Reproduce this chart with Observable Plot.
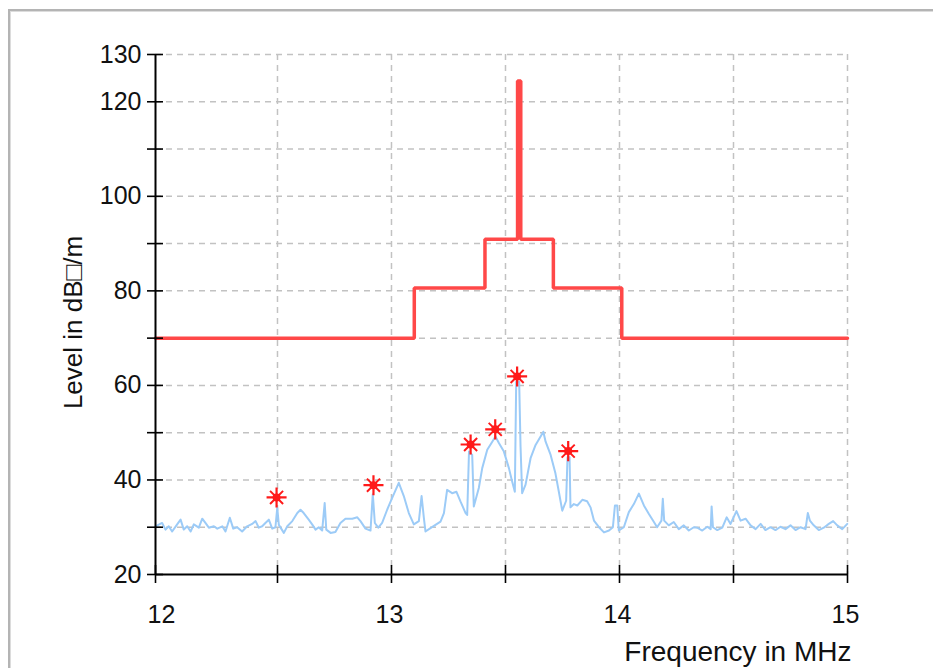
<!DOCTYPE html>
<html>
<head>
<meta charset="utf-8">
<script src="https://cdn.jsdelivr.net/npm/d3@7"></script>
<script src="https://cdn.jsdelivr.net/npm/@observablehq/plot@0.6"></script>
<style>
  body { margin: 0; background: #fff; }
  #wrap { position: relative; width: 933px; height: 668px; overflow: hidden; background: #fff; }
  #wrap svg { position: absolute; left: 0; top: 0; }
  #frame { position: absolute; left: 8px; top: 9px; width: 940px; height: 680px;
           border-top: 2px solid #b4b4b4; border-left: 2px solid #b4b4b4;
           box-shadow: inset 1px 1px 0 #dcdcdc; pointer-events: none; }
</style>
</head>
<body>
<div id="wrap"><div id="frame"></div></div>
<script>
// ---- axis definitions ----
const xDomain = [11.965, 15];
const yDomain = [20, 130];
const xTicks = [11.965, 12.5, 13, 13.5, 14, 14.5, 15];
const xGrid = [12.5, 13, 13.5, 14, 14.5, 15];
const xLabels = [12, 13, 14, 15];
const yTicks = [20, 30, 40, 50, 60, 70, 80, 90, 100, 110, 120, 130];
const yGrid = [30, 40, 50, 60, 70, 80, 90, 100, 110, 120, 130];
const yLabels = [20, 40, 60, 80, 100, 120, 130];
const xTitle = "Frequency in MHz";
const yTitle = "Level in dB\u25A1/m";

// ---- limit line (red) ----
const limitFreq  = [11.965, 13.1, 13.1, 13.41, 13.41, 13.553, 13.553, 13.567, 13.567, 13.71, 13.71, 14.01, 14.01, 15];
const limitLevel = [70, 70, 80.6, 80.6, 90.9, 90.9, 124.4, 124.4, 90.9, 90.9, 80.6, 80.6, 70, 70];

// ---- measured spectrum (light blue) ----
const specFreq = [
  11.965, 11.994, 12.009, 12.023, 12.038, 12.060, 12.075, 12.089, 12.104, 12.119, 12.133, 12.155, 12.170, 12.184, 12.199,
  12.221, 12.236, 12.258, 12.272, 12.291, 12.306, 12.323, 12.345, 12.367, 12.389, 12.404, 12.418, 12.433, 12.447, 12.462,
  12.477, 12.491, 12.499, 12.506, 12.528, 12.543,
  12.565, 12.587, 12.601, 12.615, 12.637, 12.652, 12.667, 12.681, 12.696, 12.707, 12.714, 12.733, 12.754, 12.776, 12.798,
  12.828, 12.850, 12.864, 12.886, 12.908, 12.918, 12.927, 12.942, 12.959, 12.981, 13.003, 13.032, 13.054, 13.076, 13.098,
  13.120, 13.132, 13.142,
  13.149, 13.171, 13.193, 13.215, 13.230, 13.244, 13.266, 13.285, 13.303, 13.325, 13.332, 13.340, 13.354, 13.361, 13.383,
  13.398, 13.420, 13.442, 13.456, 13.471, 13.493, 13.515, 13.529, 13.541, 13.547, 13.560, 13.566, 13.573, 13.588, 13.610,
  13.632, 13.654, 13.666, 13.676, 13.698, 13.719, 13.734,
  13.749, 13.766, 13.772, 13.781, 13.785, 13.800, 13.815, 13.837, 13.858, 13.873, 13.888, 13.910, 13.932, 13.954, 13.971,
  13.980, 13.990, 13.997, 14.019, 14.041, 14.063, 14.085, 14.107, 14.129, 14.151, 14.165, 14.184, 14.190, 14.196, 14.216,
  14.238, 14.260, 14.282, 14.304, 14.326,
  14.341, 14.363, 14.385, 14.400, 14.404, 14.410, 14.429, 14.451, 14.470, 14.487, 14.513, 14.531, 14.553, 14.575, 14.597,
  14.619, 14.640, 14.662, 14.684, 14.706, 14.728, 14.750, 14.772, 14.794, 14.816, 14.826, 14.835, 14.852, 14.874, 14.896,
  14.918, 14.937, 14.955, 14.977, 14.999
];
const specLevel = [
  30.2, 30.9, 29.5, 30.2, 29.1, 30.6, 31.6, 29.5, 30.2, 29.1, 30.6, 29.9, 31.8, 30.9, 29.9,
  30.2, 29.7, 30.2, 29.1, 32.0, 29.7, 30.0, 29.1, 30.2, 30.7, 31.3, 29.9, 30.2, 30.9, 31.6,
  29.7, 30.0, 34.1, 30.5, 28.8, 30.2,
  31.3, 33.0, 33.7, 33.0, 31.6, 30.6, 29.5, 30.0, 29.3, 35.1, 29.5, 28.8, 29.0, 30.9, 31.8,
  31.8, 32.1, 31.3, 29.7, 29.3, 37.0, 30.9, 29.9, 30.9, 33.7, 36.2, 39.4, 36.6, 33.0, 30.6,
  31.3, 36.6, 32.0,
  29.1, 29.8, 30.5, 31.2, 33.0, 37.9, 37.2, 37.5, 35.4, 33.0, 32.6, 46.0, 45.3, 34.4, 38.3,
  42.5, 46.4, 48.1, 49.2, 47.8, 46.0, 42.5, 39.7, 37.5, 60.8, 60.8, 47.1, 37.2, 39.0, 44.6,
  47.4, 49.2, 50.2, 48.1, 45.3, 41.4, 37.5,
  33.5, 35.6, 44.8, 44.8, 34.2, 34.9, 34.6, 35.8, 35.5, 34.2, 31.4, 30.0, 28.9, 29.3, 30.0,
  34.6, 34.6, 29.3, 30.0, 33.2, 34.9, 37.1, 34.6, 32.8, 31.1, 30.0, 31.4, 36.0, 31.4, 30.4,
  31.1, 29.6, 30.4, 29.3, 30.0,
  29.9, 29.3, 30.1, 29.6, 34.4, 30.0, 29.4, 29.9, 32.1, 30.7, 33.4, 31.4, 31.8, 30.4, 29.6,
  30.7, 29.4, 30.0, 29.4, 30.1, 29.6, 30.4, 29.4, 30.0, 29.6, 33.0, 31.4, 30.4, 29.4, 29.9,
  30.7, 31.3, 30.4, 29.6, 30.7
];

// ---- detected peaks (red stars) ----
const peakFreq  = [12.496, 12.921, 13.347, 13.455, 13.551, 13.775];
const peakLevel = [36.3, 38.9, 47.5, 50.7, 61.9, 46.1];

const limit = limitFreq.map((f, i) => ({f, v: limitLevel[i]}));
const spec = specFreq.map((f, i) => ({f, v: specLevel[i]}));
const peaks = peakFreq.map((f, i) => ({f, v: peakLevel[i]}));

const W = 933, H = 668, mL = 155, mR = 86, mT = 54, mB = 94;
const fw = W - mL - mR, fh = H - mT - mB;
const font = "Liberation Sans, Arial, sans-serif";
const ink = "#111";

const chart = Plot.plot({
  width: W, height: H,
  marginLeft: mL, marginRight: mR, marginTop: mT, marginBottom: mB,
  style: {fontFamily: font, background: "transparent"},
  x: {domain: xDomain, axis: null},
  y: {domain: yDomain, axis: null},
  marks: [
    Plot.ruleY(yGrid, {stroke: "#c2c2c2", strokeWidth: 1.5, strokeDasharray: "6,5"}),
    Plot.ruleX(xGrid, {stroke: "#c2c2c2", strokeWidth: 1.5, strokeDasharray: "6,5"}),
    Plot.line(spec, {x: "f", y: "v", stroke: "#9ccbf7", strokeWidth: 2}),
    Plot.line(limit, {x: "f", y: "v", stroke: "#ff4848", strokeWidth: 3.5, strokeLinejoin: "miter"}),
    Plot.ruleX([xDomain[0]], {stroke: "#000", strokeWidth: 2}),
    Plot.ruleY([yDomain[0]], {stroke: "#000", strokeWidth: 2}),
    Plot.tickY(yTicks, {y: d => d, insetRight: fw - 16, dx: -8, stroke: "#000", strokeWidth: 1.6}),
    Plot.tickX(xTicks, {x: d => d, insetTop: fh - 18, dy: 9, stroke: "#000", strokeWidth: 1.6}),
    Plot.text(yLabels, {x: xDomain[0], y: d => d, text: d => String(d), textAnchor: "end", dx: -14, fontSize: 25, fill: ink}),
    Plot.text(xLabels, {x: d => d, y: yDomain[0], text: d => String(d), dx: -2, dy: 40, fontSize: 25, fill: ink}),
    Plot.text([xTitle], {frameAnchor: "bottom-right", textAnchor: "end", lineAnchor: "middle", dx: 4, dy: 78, fontSize: 28, fill: ink}),
    Plot.text([yTitle], {frameAnchor: "left", textAnchor: "middle", lineAnchor: "middle", rotate: -90, dx: -82, dy: 8, fontSize: 26, fill: ink}),
    Plot.dot(peaks, {x: "f", y: "v", symbol: "plus", r: 6.5, stroke: "#ff1a1a", strokeWidth: 2.2}),
    Plot.dot(peaks, {x: "f", y: "v", symbol: "times", r: 6, stroke: "#ff1a1a", strokeWidth: 2}),
    Plot.dot(peaks, {x: "f", y: "v", r: 4, fill: "#ff1a1a"})
  ]
});
document.getElementById("wrap").insertBefore(chart, document.getElementById("frame"));
</script>
</body>
</html>
